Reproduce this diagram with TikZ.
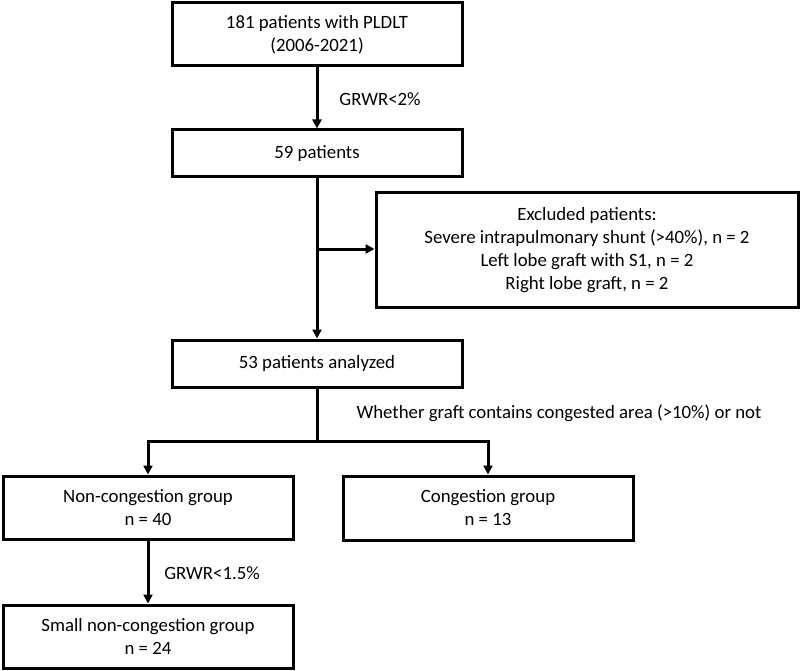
\documentclass[tikz,border=0pt]{standalone}
\usepackage{fontspec}
\setmainfont{Carlito}
\usetikzlibrary{arrows.meta}
\begin{document}
\begin{tikzpicture}[x=1pt,y=-1pt,
  box/.style={draw, line width=3pt, minimum width=290pt, align=center, inner sep=0pt, font=\fontsize{18.8}{23}\selectfont},
  lbl/.style={font=\fontsize{18.8}{23}\selectfont, inner sep=0pt},
  conn/.style={line width=3pt, -{Triangle[length=9pt,width=9pt]}},
  plain/.style={line width=3pt}]
\useasboundingbox (0,0) rectangle (800,671);
\node[box, minimum height=63pt] (b1) at (317,34.5) {181 patients with PLDLT\\(2006-2021)};
\node[box, minimum height=47pt] (b2) at (317,153.5) {59 patients};
\node[box, minimum width=422pt, minimum height=114pt] (ex) at (587,250) {Excluded patients:\\Severe intrapulmonary shunt (>40\%), n = 2\\Left lobe graft with S1, n = 2\\Right lobe graft, n = 2};
\node[box, minimum height=47pt] (b3) at (317,363.5) {53 patients analyzed};
\node[box, minimum height=63pt] (nc) at (148,507.5) {Non-congestion group\\n = 40};
\node[box, minimum height=64pt] (cg) at (488,508) {Congestion group\\n = 13};
\node[box, minimum height=63pt] (sm) at (148,636.5) {Small non-congestion group\\n = 24};
\node[lbl] (l1) at (380,99) {GRWR<2\%};
\node[lbl] (l2) at (559,413) {Whether graft contains congested area (>10\%) or not};
\node[lbl] (l3) at (212,573) {GRWR<1.5\%};
\coordinate (br) at (317,441);
\coordinate (ej) at (317,249);
\draw[conn] (b1.south) -- (b2.north);
\draw[conn] (b2.south) -- (b3.north);
\draw[conn] (ej) -- (ex.west |- ej);
\draw[plain] (b3.south) -- (br);
\draw[conn] (br) -| (nc.north);
\draw[conn] (br) -| (cg.north);
\draw[conn] (nc.south) -- (sm.north);
\end{tikzpicture}
\end{document}
